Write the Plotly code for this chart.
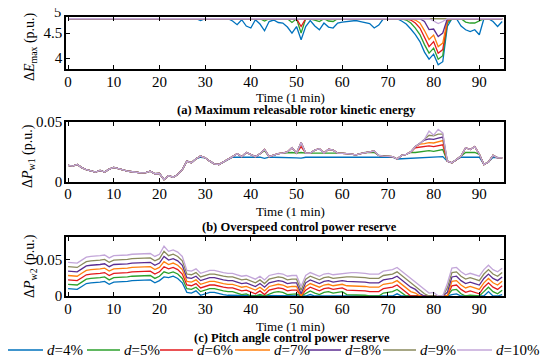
import plotly.graph_objects as go

# time index (minutes)
t = list(range(96))

# ---------- (a) maximum releasable rotor kinetic energy (p.u.) ----------
e_d4 = [4.785,4.785,4.785,4.785,4.785,4.785,4.785,4.785,4.785,4.785,
        4.785,4.785,4.785,4.785,4.785,4.785,4.785,4.785,4.785,4.785,
        4.785,4.785,4.785,4.785,4.785,4.785,4.785,4.785,4.785,4.75,
        4.785,4.785,4.785,4.785,4.785,4.785,4.74,4.666,4.766,4.64,
        4.60,4.766,4.68,4.546,4.73,4.76,4.71,4.70,4.62,4.50,
        4.63,4.366,4.63,4.75,4.64,4.566,4.70,4.62,4.60,4.70,
        4.72,4.73,4.75,4.75,4.73,4.71,4.69,4.60,4.66,4.785,
        4.785,4.785,4.785,4.74,4.68,4.58,4.47,4.33,4.12,3.98,
        4.08,3.87,3.93,4.63,4.785,4.785,4.64,4.566,4.53,4.566,
        4.466,4.785,4.785,4.73,4.63,4.73]
e_d5 = [4.785,4.785,4.785,4.785,4.785,4.785,4.785,4.785,4.785,4.785,
        4.785,4.785,4.785,4.785,4.785,4.785,4.785,4.785,4.785,4.785,
        4.785,4.785,4.785,4.785,4.785,4.785,4.785,4.785,4.785,4.785,
        4.785,4.785,4.785,4.785,4.785,4.785,4.785,4.785,4.785,4.785,
        4.785,4.785,4.785,4.74,4.785,4.785,4.785,4.785,4.785,4.71,
        4.785,4.50,4.785,4.785,4.76,4.73,4.785,4.74,4.73,4.785,
        4.785,4.785,4.785,4.785,4.785,4.785,4.785,4.77,4.785,4.785,
        4.785,4.785,4.785,4.785,4.76,4.70,4.60,4.47,4.27,4.10,
        4.20,3.98,4.05,4.70,4.785,4.785,4.785,4.72,4.70,4.70,
        4.75,4.785,4.785,4.785,4.785,4.785]
e_d6 = [4.785,4.785,4.785,4.785,4.785,4.785,4.785,4.785,4.785,4.785,
        4.785,4.785,4.785,4.785,4.785,4.785,4.785,4.785,4.785,4.785,
        4.785,4.785,4.785,4.785,4.785,4.785,4.785,4.785,4.785,4.785,
        4.785,4.785,4.785,4.785,4.785,4.785,4.785,4.785,4.785,4.785,
        4.785,4.785,4.785,4.785,4.785,4.785,4.785,4.785,4.785,4.77,
        4.785,4.63,4.785,4.785,4.785,4.785,4.785,4.785,4.785,4.785,
        4.785,4.785,4.785,4.785,4.785,4.785,4.785,4.785,4.785,4.785,
        4.785,4.785,4.785,4.785,4.785,4.76,4.70,4.60,4.42,4.23,
        4.33,4.10,4.17,4.74,4.785,4.785,4.785,4.785,4.785,4.785,
        4.785,4.785,4.785,4.785,4.785,4.785]
e_d7 = [4.785,4.785,4.785,4.785,4.785,4.785,4.785,4.785,4.785,4.785,
        4.785,4.785,4.785,4.785,4.785,4.785,4.785,4.785,4.785,4.785,
        4.785,4.785,4.785,4.785,4.785,4.785,4.785,4.785,4.785,4.785,
        4.785,4.785,4.785,4.785,4.785,4.785,4.785,4.785,4.785,4.785,
        4.785,4.785,4.785,4.785,4.785,4.785,4.785,4.785,4.785,4.785,
        4.785,4.785,4.785,4.785,4.785,4.785,4.785,4.785,4.785,4.785,
        4.785,4.785,4.785,4.785,4.785,4.785,4.785,4.785,4.785,4.785,
        4.785,4.785,4.785,4.785,4.785,4.785,4.76,4.70,4.55,4.37,
        4.46,4.23,4.30,4.76,4.785,4.785,4.785,4.785,4.785,4.785,
        4.785,4.785,4.785,4.785,4.785,4.785]
e_d8 = [4.785,4.785,4.785,4.785,4.785,4.785,4.785,4.785,4.785,4.785,
        4.785,4.785,4.785,4.785,4.785,4.785,4.785,4.785,4.785,4.785,
        4.785,4.785,4.785,4.785,4.785,4.785,4.785,4.785,4.785,4.785,
        4.785,4.785,4.785,4.785,4.785,4.785,4.785,4.785,4.785,4.785,
        4.785,4.785,4.785,4.785,4.785,4.785,4.785,4.785,4.785,4.785,
        4.785,4.785,4.785,4.785,4.785,4.785,4.785,4.785,4.785,4.785,
        4.785,4.785,4.785,4.785,4.785,4.785,4.785,4.785,4.785,4.785,
        4.785,4.785,4.785,4.785,4.785,4.785,4.785,4.785,4.73,4.57,
        4.58,4.43,4.50,4.785,4.785,4.785,4.785,4.785,4.785,4.785,
        4.785,4.785,4.785,4.785,4.785,4.785]
e_d9 = [4.785,4.785,4.785,4.785,4.785,4.785,4.785,4.785,4.785,4.785,
        4.785,4.785,4.785,4.785,4.785,4.785,4.785,4.785,4.785,4.785,
        4.785,4.785,4.785,4.785,4.785,4.785,4.785,4.785,4.785,4.785,
        4.785,4.785,4.785,4.785,4.785,4.785,4.785,4.785,4.785,4.785,
        4.785,4.785,4.785,4.785,4.785,4.785,4.785,4.785,4.785,4.785,
        4.785,4.785,4.785,4.785,4.785,4.785,4.785,4.785,4.785,4.785,
        4.785,4.785,4.785,4.785,4.785,4.785,4.785,4.785,4.785,4.785,
        4.785,4.785,4.785,4.785,4.785,4.785,4.785,4.785,4.785,4.785,
        4.785,4.785,4.785,4.785,4.785,4.785,4.785,4.785,4.785,4.785,
        4.785,4.785,4.785,4.785,4.785,4.785]
e_d10 = [4.785,4.785,4.785,4.785,4.785,4.785,4.785,4.785,4.785,4.785,
         4.785,4.785,4.785,4.785,4.785,4.785,4.785,4.785,4.785,4.785,
         4.785,4.785,4.785,4.785,4.785,4.785,4.785,4.785,4.785,4.785,
         4.785,4.785,4.785,4.785,4.785,4.785,4.785,4.785,4.785,4.785,
         4.785,4.785,4.785,4.785,4.785,4.785,4.785,4.785,4.785,4.785,
         4.785,4.785,4.785,4.785,4.785,4.785,4.785,4.785,4.785,4.785,
         4.785,4.785,4.785,4.785,4.785,4.785,4.785,4.785,4.785,4.785,
         4.785,4.785,4.785,4.785,4.785,4.785,4.785,4.785,4.785,4.785,
         4.74,4.69,4.73,4.785,4.785,4.785,4.785,4.785,4.785,4.785,
         4.785,4.785,4.785,4.785,4.785,4.785]

# ---------- (b) overspeed control power reserve (p.u.) ----------
pw1_d10 = [0.0136,0.0130,0.0144,0.0118,0.0100,0.0088,0.0080,0.0094,0.0080,0.0105,
           0.0120,0.0110,0.0097,0.0088,0.0083,0.0078,0.0073,0.0075,0.0088,0.0066,
           0.0068,0.0017,0.0050,0.0037,0.0060,0.0100,0.0172,0.0158,0.0192,0.0215,
           0.0200,0.0172,0.0150,0.0144,0.0164,0.0186,0.0210,0.0235,0.0210,0.0245,
           0.0230,0.0210,0.0235,0.0270,0.0210,0.0225,0.0235,0.0240,0.0250,0.0285,
           0.0240,0.0328,0.0240,0.0240,0.0265,0.0277,0.0240,0.0272,0.0265,0.0240,
           0.0240,0.0235,0.0232,0.0225,0.0235,0.0245,0.0250,0.0257,0.0220,0.0215,
           0.0212,0.0210,0.0190,0.0220,0.0230,0.0250,0.0295,0.0320,0.0356,0.0426,
           0.0390,0.0440,0.0410,0.0172,0.0158,0.0185,0.0215,0.0285,0.0270,0.0294,
           0.0230,0.0144,0.0165,0.0220,0.0200,0.0200]
pw1_d9 = [0.0136,0.0130,0.0144,0.0118,0.0100,0.0088,0.0080,0.0094,0.0080,0.0105,
          0.0120,0.0110,0.0097,0.0088,0.0083,0.0078,0.0073,0.0075,0.0088,0.0066,
          0.0068,0.0017,0.0050,0.0037,0.0060,0.0100,0.0172,0.0158,0.0192,0.0215,
          0.0200,0.0172,0.0150,0.0144,0.0164,0.0186,0.0210,0.0235,0.0210,0.0245,
          0.0230,0.0210,0.0235,0.0270,0.0210,0.0225,0.0235,0.0240,0.0250,0.0285,
          0.0240,0.0328,0.0240,0.0240,0.0265,0.0277,0.0240,0.0272,0.0265,0.0240,
          0.0240,0.0235,0.0232,0.0225,0.0235,0.0245,0.0250,0.0257,0.0220,0.0215,
          0.0212,0.0210,0.0190,0.0220,0.0230,0.0250,0.0295,0.0320,0.0356,0.0390,
          0.0385,0.0400,0.0400,0.0172,0.0158,0.0185,0.0215,0.0285,0.0270,0.0294,
          0.0230,0.0144,0.0165,0.0220,0.0200,0.0200]
pw1_d8 = [0.0136,0.0130,0.0144,0.0118,0.0100,0.0088,0.0080,0.0094,0.0080,0.0105,
          0.0120,0.0110,0.0097,0.0088,0.0083,0.0078,0.0073,0.0075,0.0088,0.0066,
          0.0068,0.0017,0.0050,0.0037,0.0060,0.0100,0.0172,0.0158,0.0192,0.0215,
          0.0200,0.0172,0.0150,0.0144,0.0164,0.0186,0.0210,0.0235,0.0210,0.0245,
          0.0230,0.0210,0.0235,0.0270,0.0210,0.0225,0.0235,0.0240,0.0250,0.0285,
          0.0240,0.0328,0.0240,0.0240,0.0265,0.0277,0.0240,0.0272,0.0265,0.0240,
          0.0240,0.0235,0.0232,0.0225,0.0235,0.0245,0.0250,0.0257,0.0220,0.0215,
          0.0212,0.0210,0.0190,0.0220,0.0230,0.0250,0.0295,0.0320,0.0350,0.0360,
          0.0355,0.0365,0.0375,0.0172,0.0158,0.0185,0.0215,0.0285,0.0270,0.0294,
          0.0230,0.0144,0.0165,0.0220,0.0200,0.0200]
pw1_d7 = [0.0136,0.0130,0.0144,0.0118,0.0100,0.0088,0.0080,0.0094,0.0080,0.0105,
          0.0120,0.0110,0.0097,0.0088,0.0083,0.0078,0.0073,0.0075,0.0088,0.0066,
          0.0068,0.0017,0.0050,0.0037,0.0060,0.0100,0.0172,0.0158,0.0192,0.0215,
          0.0200,0.0172,0.0150,0.0144,0.0164,0.0186,0.0210,0.0235,0.0210,0.0245,
          0.0230,0.0210,0.0235,0.0270,0.0210,0.0225,0.0235,0.0240,0.0250,0.0285,
          0.0240,0.0328,0.0240,0.0240,0.0265,0.0277,0.0240,0.0272,0.0265,0.0240,
          0.0240,0.0235,0.0232,0.0225,0.0235,0.0245,0.0250,0.0257,0.0220,0.0215,
          0.0212,0.0210,0.0190,0.0220,0.0230,0.0250,0.0295,0.0315,0.0320,0.0328,
          0.0325,0.0335,0.0345,0.0172,0.0158,0.0185,0.0215,0.0285,0.0270,0.0294,
          0.0230,0.0144,0.0165,0.0220,0.0200,0.0200]
pw1_d6 = [0.0136,0.0130,0.0144,0.0118,0.0100,0.0088,0.0080,0.0094,0.0080,0.0105,
          0.0120,0.0110,0.0097,0.0088,0.0083,0.0078,0.0073,0.0075,0.0088,0.0066,
          0.0068,0.0017,0.0050,0.0037,0.0060,0.0100,0.0172,0.0158,0.0192,0.0215,
          0.0200,0.0172,0.0150,0.0144,0.0164,0.0186,0.0210,0.0235,0.0210,0.0245,
          0.0230,0.0210,0.0235,0.0270,0.0210,0.0225,0.0235,0.0240,0.0250,0.0285,
          0.0240,0.0295,0.0240,0.0240,0.0265,0.0277,0.0240,0.0272,0.0265,0.0240,
          0.0240,0.0235,0.0232,0.0225,0.0235,0.0245,0.0250,0.0257,0.0220,0.0215,
          0.0212,0.0210,0.0190,0.0220,0.0230,0.0250,0.0285,0.0290,0.0295,0.0300,
          0.0295,0.0305,0.0310,0.0172,0.0158,0.0185,0.0215,0.0285,0.0270,0.0294,
          0.0230,0.0144,0.0165,0.0220,0.0200,0.0200]
pw1_d5 = [0.0136,0.0130,0.0144,0.0118,0.0100,0.0088,0.0080,0.0094,0.0080,0.0105,
          0.0120,0.0110,0.0097,0.0088,0.0083,0.0078,0.0073,0.0075,0.0088,0.0066,
          0.0068,0.0017,0.0050,0.0037,0.0060,0.0100,0.0172,0.0158,0.0192,0.0215,
          0.0200,0.0172,0.0150,0.0144,0.0164,0.0186,0.0210,0.0235,0.0210,0.0245,
          0.0230,0.0210,0.0235,0.0260,0.0210,0.0225,0.0235,0.0240,0.0245,0.0245,
          0.0240,0.0245,0.0240,0.0240,0.0245,0.0245,0.0240,0.0245,0.0245,0.0240,
          0.0240,0.0235,0.0232,0.0225,0.0235,0.0245,0.0245,0.0245,0.0220,0.0215,
          0.0212,0.0210,0.0190,0.0220,0.0230,0.0245,0.0245,0.0250,0.0255,0.0260,
          0.0255,0.0265,0.0270,0.0172,0.0158,0.0185,0.0215,0.0245,0.0245,0.0245,
          0.0230,0.0144,0.0165,0.0220,0.0200,0.0200]
pw1_d4 = [0.0136,0.0130,0.0144,0.0118,0.0100,0.0088,0.0080,0.0094,0.0080,0.0105,
          0.0120,0.0110,0.0097,0.0088,0.0083,0.0078,0.0073,0.0075,0.0088,0.0066,
          0.0068,0.0017,0.0050,0.0037,0.0060,0.0100,0.0172,0.0158,0.0192,0.0205,
          0.0200,0.0172,0.0150,0.0144,0.0164,0.0186,0.0205,0.0205,0.0205,0.0205,
          0.0205,0.0205,0.0205,0.0195,0.0205,0.0205,0.0205,0.0205,0.0205,0.0205,
          0.0200,0.0198,0.0205,0.0205,0.0205,0.0205,0.0205,0.0205,0.0205,0.0205,
          0.0205,0.0205,0.0205,0.0205,0.0205,0.0205,0.0205,0.0205,0.0205,0.0205,
          0.0205,0.0205,0.0190,0.0192,0.0193,0.0195,0.0197,0.0199,0.0200,0.0202,
          0.0200,0.0205,0.0210,0.0172,0.0158,0.0185,0.0205,0.0205,0.0205,0.0205,
          0.0205,0.0144,0.0165,0.0205,0.0200,0.0200]

# ---------- (c) pitch angle control power reserve (p.u.) ----------
pw2_d10 = [0.046,0.045,0.045,0.049,0.053,0.054,0.054,0.055,0.056,0.052,
           0.055,0.055,0.056,0.056,0.057,0.057,0.057,0.058,0.058,0.054,
           0.057,0.068,0.061,0.063,0.060,0.054,0.035,0.034,0.037,0.031,
           0.033,0.035,0.035,0.033,0.032,0.031,0.031,0.029,0.027,0.028,
           0.025,0.023,0.027,0.022,0.028,0.030,0.031,0.030,0.027,0.028,
           0.028,0.013,0.028,0.032,0.029,0.027,0.030,0.031,0.029,0.030,
           0.031,0.032,0.032,0.032,0.032,0.031,0.030,0.030,0.030,0.034,
           0.035,0.036,0.039,0.034,0.029,0.024,0.019,0.013,0.008,0.004,
           0.005,0.000,0.000,0.017,0.038,0.039,0.033,0.029,0.031,0.029,
           0.027,0.036,0.042,0.036,0.033,0.038]
pw2_d9 = [0.040,0.039,0.039,0.043,0.047,0.048,0.048,0.049,0.050,0.046,
          0.049,0.049,0.050,0.050,0.051,0.051,0.051,0.052,0.052,0.048,
          0.051,0.061,0.055,0.057,0.054,0.048,0.030,0.029,0.032,0.026,
          0.028,0.030,0.030,0.028,0.027,0.026,0.026,0.024,0.022,0.023,
          0.020,0.018,0.022,0.017,0.023,0.025,0.026,0.025,0.022,0.023,
          0.023,0.008,0.023,0.027,0.024,0.022,0.025,0.026,0.024,0.025,
          0.026,0.026,0.026,0.026,0.026,0.025,0.024,0.024,0.024,0.028,
          0.029,0.030,0.033,0.028,0.023,0.018,0.014,0.008,0.003,0.000,
          0.000,0.000,0.000,0.011,0.032,0.033,0.027,0.023,0.025,0.023,
          0.021,0.030,0.036,0.030,0.027,0.032]
pw2_d8 = [0.034,0.033,0.033,0.037,0.041,0.042,0.042,0.043,0.044,0.040,
          0.043,0.043,0.044,0.044,0.045,0.045,0.045,0.046,0.046,0.042,
          0.045,0.054,0.049,0.051,0.048,0.042,0.025,0.024,0.027,0.021,
          0.023,0.025,0.025,0.023,0.022,0.021,0.021,0.019,0.017,0.018,
          0.015,0.013,0.017,0.012,0.018,0.020,0.021,0.020,0.017,0.018,
          0.018,0.003,0.018,0.022,0.019,0.017,0.020,0.021,0.019,0.020,
          0.021,0.020,0.020,0.020,0.020,0.019,0.018,0.018,0.018,0.022,
          0.023,0.024,0.027,0.022,0.017,0.012,0.009,0.003,0.000,0.000,
          0.000,0.000,0.000,0.005,0.026,0.027,0.021,0.017,0.019,0.017,
          0.015,0.024,0.030,0.024,0.021,0.026]
pw2_d7 = [0.028,0.027,0.027,0.031,0.035,0.036,0.036,0.037,0.038,0.034,
          0.037,0.037,0.038,0.038,0.039,0.039,0.039,0.040,0.040,0.036,
          0.039,0.047,0.043,0.045,0.042,0.036,0.020,0.019,0.022,0.016,
          0.018,0.020,0.020,0.018,0.017,0.016,0.016,0.014,0.012,0.013,
          0.010,0.008,0.012,0.007,0.013,0.015,0.016,0.015,0.012,0.013,
          0.013,0.000,0.013,0.017,0.014,0.012,0.015,0.016,0.014,0.015,
          0.016,0.014,0.014,0.014,0.014,0.013,0.012,0.012,0.012,0.016,
          0.017,0.018,0.021,0.016,0.011,0.006,0.004,0.000,0.000,0.000,
          0.000,0.000,0.000,0.000,0.020,0.021,0.015,0.011,0.013,0.011,
          0.009,0.018,0.024,0.018,0.015,0.020]
pw2_d6 = [0.022,0.021,0.021,0.025,0.029,0.030,0.030,0.031,0.032,0.028,
          0.031,0.031,0.032,0.032,0.033,0.033,0.033,0.034,0.034,0.030,
          0.033,0.040,0.037,0.039,0.036,0.030,0.015,0.014,0.017,0.011,
          0.013,0.015,0.015,0.013,0.012,0.011,0.011,0.009,0.007,0.008,
          0.005,0.003,0.007,0.002,0.008,0.010,0.011,0.010,0.007,0.008,
          0.008,0.000,0.008,0.012,0.009,0.007,0.010,0.011,0.009,0.010,
          0.011,0.008,0.008,0.008,0.008,0.007,0.006,0.006,0.006,0.010,
          0.011,0.012,0.015,0.010,0.005,0.000,0.000,0.000,0.000,0.000,
          0.000,0.000,0.000,0.000,0.014,0.015,0.009,0.005,0.007,0.005,
          0.003,0.012,0.018,0.012,0.009,0.014]
pw2_d5 = [0.016,0.015,0.015,0.019,0.023,0.024,0.024,0.025,0.026,0.022,
          0.025,0.025,0.026,0.026,0.027,0.027,0.027,0.028,0.028,0.024,
          0.027,0.033,0.031,0.033,0.030,0.024,0.010,0.009,0.012,0.006,
          0.008,0.010,0.010,0.008,0.007,0.006,0.006,0.004,0.002,0.003,
          0.000,0.000,0.002,0.000,0.003,0.005,0.006,0.005,0.002,0.003,
          0.003,0.000,0.003,0.007,0.004,0.002,0.005,0.006,0.004,0.005,
          0.006,0.002,0.002,0.002,0.002,0.001,0.000,0.000,0.000,0.004,
          0.005,0.006,0.009,0.004,0.000,0.000,0.000,0.000,0.000,0.000,
          0.000,0.000,0.000,0.000,0.008,0.009,0.003,0.000,0.001,0.000,
          0.000,0.006,0.012,0.006,0.003,0.008]
pw2_d4 = [0.010,0.009,0.009,0.013,0.017,0.018,0.018,0.019,0.020,0.016,
          0.019,0.019,0.020,0.020,0.021,0.021,0.021,0.022,0.022,0.018,
          0.021,0.026,0.025,0.027,0.024,0.018,0.005,0.004,0.007,0.001,
          0.003,0.005,0.005,0.003,0.002,0.001,0.001,0.000,0.000,0.000,
          0.000,0.000,0.000,0.000,0.000,0.000,0.001,0.000,0.000,0.000,
          0.000,0.000,0.000,0.002,0.000,0.000,0.000,0.001,0.000,0.000,
          0.001,0.000,0.000,0.000,0.000,0.000,0.000,0.000,0.000,0.000,
          0.000,0.000,0.003,0.000,0.000,0.000,0.000,0.000,0.000,0.000,
          0.000,0.000,0.000,0.000,0.002,0.003,0.000,0.000,0.000,0.000,
          0.000,0.000,0.006,0.000,0.000,0.002]

series_names = ["<i>d</i>=4%", "<i>d</i>=5%", "<i>d</i>=6%", "<i>d</i>=7%",
                "<i>d</i>=8%", "<i>d</i>=9%", "<i>d</i>=10%"]
x_ticks = [0, 10, 20, 30, 40, 50, 60, 70, 80, 90]

panel_a = [e_d4, e_d5, e_d6, e_d7, e_d8, e_d9, e_d10]
panel_b = [pw1_d4, pw1_d5, pw1_d6, pw1_d7, pw1_d8, pw1_d9, pw1_d10]
panel_c = [pw2_d4, pw2_d5, pw2_d6, pw2_d7, pw2_d8, pw2_d9, pw2_d10]
for arr in panel_a + panel_b + panel_c:
    assert len(arr) == len(t), len(arr)

colors = ["#0072BD", "#2CA02C", "#E3191C", "#FF7F0E", "#5B2D91", "#8A8A5C", "#C3A6D9"]
FONT = "Liberation Serif, Times New Roman, serif"

# figure geometry; the page body has the browser's default 8 px margin,
# so page coordinates are figure coordinates + 8
PAGE_OFF = 8
W_PX, H_PX = 550, 361
M_L, M_R, M_T, M_B = 58, 54, 9, 73
PLOT_W = W_PX - M_L - M_R
PLOT_H = H_PX - M_T - M_B

def px_to_paper_x(px):
    return (px - PAGE_OFF - M_L) / PLOT_W

def py_to_paper_y(py):
    return (H_PX - M_B - (py - PAGE_OFF)) / PLOT_H

fig = go.Figure()
for k in range(7):
    for data, xa, ya in ((panel_a[k], "x", "y"),
                         (panel_b[k], "x2", "y2"),
                         (panel_c[k], "x3", "y3")):
        fig.add_trace(go.Scatter(
            x=t, y=data, xaxis=xa, yaxis=ya, mode="lines",
            line=dict(color=colors[k], width=1.3),
            name=series_names[k], showlegend=False, hoverinfo="skip"))

axis_common = dict(showline=True, linecolor="black", linewidth=1.5, mirror="ticks",
                   ticks="inside", ticklen=4, tickwidth=1.2, tickcolor="black",
                   showgrid=False, zeroline=False,
                   tickfont=dict(family=FONT, size=15, color="black"))
xaxis_common = dict(axis_common, ticklabelstandoff=-2)
yaxis_common = dict(axis_common, ticklabelstandoff=-1)

xr = [-0.45, 95.4]
fig.update_layout(
    width=W_PX, height=H_PX,
    margin=dict(l=M_L, r=M_R, t=M_T, b=M_B, autoexpand=False),
    paper_bgcolor="white", plot_bgcolor="white",
    font=dict(family=FONT, color="black"),
    showlegend=False,
    xaxis=dict(domain=[0, 1], anchor="y", range=xr, tickvals=x_ticks, **xaxis_common),
    xaxis2=dict(domain=[0, 1], anchor="y2", range=xr, tickvals=x_ticks, **xaxis_common),
    xaxis3=dict(domain=[0, 1], anchor="y3", range=xr, tickvals=x_ticks, **xaxis_common),
    yaxis=dict(domain=[0.814, 1.0], anchor="x", range=[3.786, 4.82],
               tickvals=[4, 4.5], ticktext=["4", "4.5"], **yaxis_common),
    yaxis2=dict(domain=[0.41, 0.623], anchor="x2", range=[0, 0.05],
                tickvals=[0, 0.05], ticktext=["0", "0.05"], **yaxis_common),
    yaxis3=dict(domain=[0, 0.21], anchor="x3", range=[0, 0.08],
                tickvals=[0, 0.05], ticktext=["0", "0.05"], **yaxis_common),
)

def ann(text, x, y, size=13, angle=0, xanchor="center", bold=False):
    if bold:
        text = "<b>" + text + "</b>"
    fig.add_annotation(text=text, x=x, y=y, xref="paper", yref="paper",
                       showarrow=False, textangle=angle, xanchor=xanchor,
                       yanchor="middle", font=dict(family=FONT, size=size, color="black"))

# top tick label of panel (a)
ann("5", px_to_paper_x(63), py_to_paper_y(12), size=14.5, xanchor="right")
# y-axis titles
ann("Δ<i>E</i><sub>max</sub> (p.u.)", px_to_paper_x(30), py_to_paper_y(47), size=14, angle=-90)
ann("Δ<i>P</i><sub>w1</sub> (p.u.)", px_to_paper_x(28), py_to_paper_y(156), size=14, angle=-90)
ann("Δ<i>P</i><sub>w2</sub> (p.u.)", px_to_paper_x(30), py_to_paper_y(266), size=14, angle=-90)
# x-axis titles
ann("Time (1 min)", px_to_paper_x(290), py_to_paper_y(97))
ann("Time (1 min)", px_to_paper_x(290), py_to_paper_y(211))
ann("Time (1 min)", px_to_paper_x(290), py_to_paper_y(326))
# panel captions
ann("(a) Maximum releasable rotor kinetic energy", px_to_paper_x(296), py_to_paper_y(110), size=12.5, bold=True)
ann("(b) Overspeed control power reserve", px_to_paper_x(299), py_to_paper_y(227), size=12.5, bold=True)
ann("(c) Pitch angle control power reserve", px_to_paper_x(292), py_to_paper_y(337.5), size=12.5, bold=True)

# legend row (line sample + label) along the bottom
legend_line_start = [7, 87, 160, 235, 308, 383, 457]
legend_line_end = [43, 120, 193, 270, 341, 416, 492]
legend_y = py_to_paper_y(350)
for k in range(7):
    fig.add_shape(type="line", xref="paper", yref="paper",
                  x0=px_to_paper_x(legend_line_start[k]), x1=px_to_paper_x(legend_line_end[k]),
                  y0=legend_y, y1=legend_y, line=dict(color=colors[k], width=1.6))
    ann(series_names[k], px_to_paper_x(legend_line_end[k] + 2), legend_y, size=15, xanchor="left")

fig.write_html("out.html")
